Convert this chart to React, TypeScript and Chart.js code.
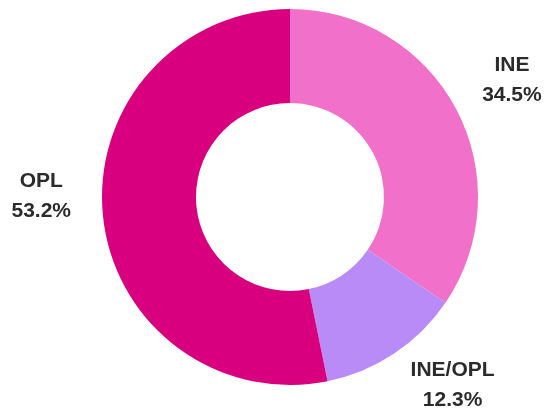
import React, { useEffect, useRef } from "react";
import { Chart, registerables } from "chart.js";

Chart.register(...registerables);

const categories = ["INE", "INE/OPL", "OPL"];
const shares = [34.5, 12.3, 53.2];
const colors = ["#F170C9", "#B98BF7", "#D8007F"];
// label nudges (px) relative to the arc-based anchor
const labelNudges = [
  [1, 0],
  [24, -20],
  [0, -26],
];

const labelPlugin = {
  id: "outerLabels",
  afterDatasetsDraw(chart: any) {
    const ctx = chart.ctx;
    const meta = chart.getDatasetMeta(0);
    ctx.save();
    ctx.font = "bold 21px 'Liberation Sans', Arial, sans-serif";
    ctx.fillStyle = "#2b2b2b";
    ctx.textAlign = "center";
    ctx.textBaseline = "middle";
    meta.data.forEach((arc: any, i: number) => {
      const { x, y, startAngle, endAngle, outerRadius } = arc.getProps(
        ["x", "y", "startAngle", "endAngle", "outerRadius"],
        true
      );
      const mid = (startAngle + endAngle) / 2;
      const r = outerRadius + 62;
      const lx = x + Math.cos(mid) * r + labelNudges[i][0];
      const ly = y + Math.sin(mid) * r + labelNudges[i][1];
      ctx.fillText(categories[i], lx, ly - 15);
      ctx.fillText(shares[i].toFixed(1) + "%", lx, ly + 15);
    });
    ctx.restore();
  },
};

export default function App() {
  const ref = useRef<HTMLCanvasElement | null>(null);
  useEffect(() => {
    if (!ref.current) return;
    const chart = new Chart(ref.current, {
      type: "doughnut",
      data: {
        labels: categories,
        datasets: [
          {
            data: shares,
            backgroundColor: colors,
            borderWidth: 0,
          },
        ],
      },
      options: {
        responsive: false,
        animation: false,
        cutout: "50%",
        layout: { padding: { top: 9, bottom: 29, left: 102, right: 70 } },
        plugins: {
          legend: { display: false },
          tooltip: { enabled: false },
        },
      },
      plugins: [labelPlugin],
    });
    return () => chart.destroy();
  }, []);
  return (
    <div style={{ position: "fixed", left: 0, top: 0, width: 548, height: 414, background: "#fff" }}>
      <canvas ref={ref} width={548} height={414} style={{ width: 548, height: 414 }} />
    </div>
  );
}
